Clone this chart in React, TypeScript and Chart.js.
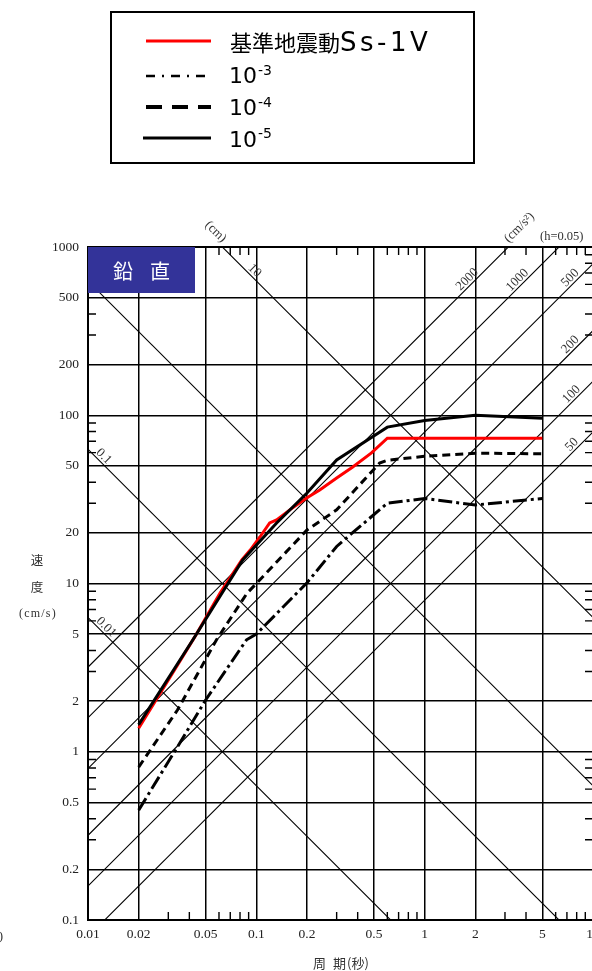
import React, { useEffect, useRef } from "react";
import { Chart, registerables } from "chart.js";

Chart.register(...registerables);

// ---------------- data (period s, velocity cm/s) ----------------
const ssPeriods = [0.02, 0.043, 0.061, 0.082, 0.092, 0.105, 0.12, 0.132, 0.158, 0.2, 0.238, 0.3, 0.374, 0.483, 0.6, 5];
const ssVelocity = [1.38, 4.8, 8.8, 13.8, 15.8, 18.9, 22.9, 23.9, 27.4, 32.3, 36, 42.4, 49.3, 59.7, 73, 73];

const e3Periods = [0.02, 0.034, 0.05, 0.0875, 0.1, 0.2, 0.3, 0.344, 0.6, 1, 2, 5];
const e3Velocity = [0.45, 1.07, 2.03, 4.63, 5.0, 10.1, 16.6, 18.7, 30, 32, 29.3, 32];

const e4Periods = [0.02, 0.034, 0.058, 0.088, 0.1, 0.2, 0.3, 0.54, 0.6, 1, 2, 5];
const e4Velocity = [0.81, 1.77, 4.63, 8.75, 10, 20.8, 27.4, 52, 54, 57, 59.5, 59];

const e5Periods = [0.02, 0.042, 0.083, 0.132, 0.2, 0.3, 0.6, 1, 2, 5];
const e5Velocity = [1.45, 4.63, 13.8, 22.9, 34.5, 54.2, 85, 93, 100, 96];

const xGridValues = [0.01, 0.02, 0.05, 0.1, 0.2, 0.5, 1, 2, 5, 10];
const xTickLabels = ["0.01", "0.02", "0.05", "0.1", "0.2", "0.5", "1", "2", "5", "10"];
const yGridValues = [0.1, 0.2, 0.5, 1, 2, 5, 10, 20, 50, 100, 200, 500, 1000];
const yTickLabels = ["0.1", "0.2", "0.5", "1", "2", "5", "10", "20", "50", "100", "200", "500", "1000"];
const minorMultiples = [3, 4, 6, 7, 8, 9];
const xDecades = [0.01, 0.1, 1];
const yDecades = [0.1, 1, 10, 100];

const displacementLines = [0.01, 0.1, 1, 10]; // cm
const accelerationLines = [50, 100, 200, 500, 1000, 2000]; // cm/s2
const dispLabelTexts = ["0.01", "0.1", "10", "(cm)"];
const dispLabelValues = [0.01, 0.1, 10, 10];
const dispLabelPeriods = [0.0121, 0.0117, 0.0921, 0.0541];
const accLabelTexts = ["50", "100", "200", "500", "1000", "2000", "(cm/s²)"];
const accLabelValues = [50, 100, 200, 500, 1000, 2000, 2000];
const accLabelPeriods = [7.93, 7.9, 7.78, 7.76, 3.77, 1.9, 3.87];

const legendTitle = "基準地震動";
const legendTitleLatin = "Ss-1V";
const legendExponents = ["-3", "-4", "-5"];

const TWO_PI = 2 * Math.PI;
const SERIF = "'Liberation Serif', 'DejaVu Serif', serif";
const CJK = "'Noto Sans CJK JP', sans-serif";

function zip(xs: number[], ys: number[]) {
  return xs.map((x, i) => ({ x, y: ys[i] }));
}

function spacedText(ctx: CanvasRenderingContext2D, text: string, x: number, y: number, spacing: number) {
  let cx = x;
  for (const ch of Array.from(text)) {
    ctx.fillText(ch, cx, y);
    cx += ctx.measureText(ch).width + spacing;
  }
}

const overlayPlugin = {
  id: "tripartite",
  beforeDatasetsDraw(chart: any) {
    const { ctx, chartArea: a } = chart;
    const xs = chart.scales.x;
    const ys = chart.scales.y;
    ctx.save();
    ctx.beginPath();
    ctx.rect(a.left, a.top, a.right - a.left, a.bottom - a.top);
    ctx.clip();
    ctx.strokeStyle = "#000";
    ctx.lineWidth = 1.1;
    const tA = 0.001;
    const tB = 100;
    for (const d of displacementLines) {
      const f = (t: number) => (TWO_PI * d) / t;
      ctx.beginPath();
      ctx.moveTo(xs.getPixelForValue(tA), ys.getPixelForValue(f(tA)));
      ctx.lineTo(xs.getPixelForValue(tB), ys.getPixelForValue(f(tB)));
      ctx.stroke();
    }
    for (const acc of accelerationLines) {
      const f = (t: number) => (acc * t) / TWO_PI;
      ctx.beginPath();
      ctx.moveTo(xs.getPixelForValue(tA), ys.getPixelForValue(f(tA)));
      ctx.lineTo(xs.getPixelForValue(tB), ys.getPixelForValue(f(tB)));
      ctx.stroke();
    }
    ctx.restore();

    ctx.save();
    ctx.strokeStyle = "#000";
    ctx.lineWidth = 1.4;
    const tl = 8;
    for (const dec of xDecades) {
      for (const m of minorMultiples) {
        const px = xs.getPixelForValue(dec * m);
        ctx.beginPath();
        ctx.moveTo(px, a.bottom);
        ctx.lineTo(px, a.bottom - tl);
        ctx.moveTo(px, a.top);
        ctx.lineTo(px, a.top + tl);
        ctx.stroke();
      }
    }
    for (const dec of yDecades) {
      for (const m of minorMultiples) {
        const py = ys.getPixelForValue(dec * m);
        ctx.beginPath();
        ctx.moveTo(a.left, py);
        ctx.lineTo(a.left + tl, py);
        ctx.moveTo(a.right, py);
        ctx.lineTo(a.right - tl, py);
        ctx.stroke();
      }
    }
    ctx.lineWidth = 2;
    ctx.strokeRect(a.left, a.top, a.right - a.left, a.bottom - a.top);
    ctx.restore();
  },
  afterDraw(chart: any) {
    const { ctx, chartArea: a } = chart;
    const xs = chart.scales.x;
    const ys = chart.scales.y;
    const off = 6 / Math.SQRT2;

    ctx.save();
    ctx.fillStyle = "#333";
    ctx.font = `13px ${SERIF}`;
    ctx.textAlign = "center";
    ctx.textBaseline = "middle";
    dispLabelTexts.forEach((txt, i) => {
      const t = dispLabelPeriods[i];
      const v = (TWO_PI * dispLabelValues[i]) / t;
      const px = xs.getPixelForValue(t) + off;
      const py = ys.getPixelForValue(v) - off;
      ctx.save();
      ctx.translate(px, py);
      ctx.rotate(Math.PI / 4);
      ctx.fillText(txt, 0, 0);
      ctx.restore();
    });
    accLabelTexts.forEach((txt, i) => {
      const t = accLabelPeriods[i];
      const v = (accLabelValues[i] * t) / TWO_PI;
      const px = xs.getPixelForValue(t) - off;
      const py = ys.getPixelForValue(v) - off;
      ctx.save();
      ctx.translate(px, py);
      ctx.rotate(-Math.PI / 4);
      ctx.fillText(txt, 0, 0);
      ctx.restore();
    });
    ctx.textAlign = "left";
    ctx.textBaseline = "alphabetic";
    ctx.font = `12.5px ${SERIF}`;
    ctx.fillText("(h=0.05)", a.right - 53, a.top - 7);

    // blue box
    ctx.fillStyle = "#333399";
    ctx.fillRect(a.left, a.top, 107, 46);
    ctx.fillStyle = "#fff";
    ctx.font = `20px ${CJK}`;
    ctx.textAlign = "center";
    ctx.textBaseline = "middle";
    ctx.fillText("鉛", a.left + 35, a.top + 24);
    ctx.fillText("直", a.left + 72, a.top + 24);

    // axis titles
    ctx.fillStyle = "#333";
    ctx.font = `12.5px ${CJK}`;
    ctx.fillText("速", 37, 560);
    ctx.fillText("度", 37, 587);
    ctx.font = `12px ${SERIF}`;
    ctx.textAlign = "left";
    spacedText(ctx, "(cm/s)", 19, 614, 1.2);
    ctx.font = `13px ${CJK}`;
    ctx.textBaseline = "middle";
    ctx.fillText("周", 313, 963);
    ctx.fillText("期", 333, 963);
    ctx.fillText("(秒)", 347, 963);
    ctx.font = `13px ${SERIF}`;
    ctx.textAlign = "right";
    ctx.fillText(")", 3, 937);

    // legend box
    ctx.strokeStyle = "#000";
    ctx.lineWidth = 2;
    ctx.strokeRect(111, 12, 363, 151);
    const lx0 = 146;
    const lx1 = 211;
    ctx.lineWidth = 3;
    ctx.strokeStyle = "#ff0000";
    ctx.setLineDash([]);
    ctx.beginPath();
    ctx.moveTo(lx0, 41);
    ctx.lineTo(lx1, 41);
    ctx.stroke();
    ctx.strokeStyle = "#000";
    ctx.lineWidth = 2.5;
    ctx.setLineDash([9, 7, 2, 7]);
    ctx.beginPath();
    ctx.moveTo(lx0, 76);
    ctx.lineTo(lx1, 76);
    ctx.stroke();
    ctx.lineWidth = 4;
    ctx.setLineDash([16, 10]);
    ctx.beginPath();
    ctx.moveTo(lx0, 107);
    ctx.lineTo(lx1, 107);
    ctx.stroke();
    ctx.lineWidth = 3;
    ctx.setLineDash([]);
    ctx.beginPath();
    ctx.moveTo(143, 138);
    ctx.lineTo(lx1, 138);
    ctx.stroke();

    ctx.fillStyle = "#000";
    ctx.textAlign = "left";
    ctx.textBaseline = "alphabetic";
    ctx.font = `22px ${CJK}`;
    ctx.fillText(legendTitle, 230, 51);
    ctx.font = `26px 'DejaVu Sans', sans-serif`;
    spacedText(ctx, legendTitleLatin, 340, 51, 3.5);
    const baselines = [83, 115, 146.5];
    legendExponents.forEach((ex, i) => {
      ctx.font = `22px 'DejaVu Sans', sans-serif`;
      ctx.fillText("10", 229, baselines[i]);
      ctx.font = `14px 'DejaVu Sans', sans-serif`;
      ctx.fillText(ex, 258, baselines[i] - 8.5);
    });
    ctx.restore();
  },
};

export default function App() {
  const ref = useRef<HTMLCanvasElement | null>(null);
  useEffect(() => {
    const canvas = ref.current;
    if (!canvas) return;
    const tickFont = { family: SERIF, size: 13.5 };
    const chart = new Chart(canvas, {
      type: "scatter",
      data: {
        datasets: [
          {
            label: "10-3",
            data: zip(e3Periods, e3Velocity),
            showLine: true,
            borderColor: "#000",
            borderWidth: 3,
            borderDash: [14, 4, 3, 4],
            pointRadius: 0,
            fill: false,
          },
          {
            label: "10-4",
            data: zip(e4Periods, e4Velocity),
            showLine: true,
            borderColor: "#000",
            borderWidth: 3,
            borderDash: [8, 5],
            pointRadius: 0,
            fill: false,
          },
          {
            label: "10-5",
            data: zip(e5Periods, e5Velocity),
            showLine: true,
            borderColor: "#000",
            borderWidth: 3,
            pointRadius: 0,
            fill: false,
          },
          {
            label: "基準地震動Ss-1V",
            data: zip(ssPeriods, ssVelocity),
            showLine: true,
            borderColor: "#ff0000",
            borderWidth: 3,
            pointRadius: 0,
            fill: false,
          },
        ],
      },
      options: {
        responsive: false,
        animation: false,
        devicePixelRatio: 1,
        events: [],
        layout: { padding: { top: 247, right: 27, left: 0, bottom: 0 } },
        plugins: { legend: { display: false }, tooltip: { enabled: false } },
        scales: {
          x: {
            type: "logarithmic",
            position: "bottom",
            min: 0.01,
            max: 10,
            afterBuildTicks: (s: any) => {
              s.ticks = xGridValues.map((v) => ({ value: v }));
            },
            afterFit: (s: any) => {
              s.height = 51;
            },
            grid: { color: "#000", lineWidth: 1.5, drawTicks: false },
            border: { color: "#000", width: 2 },
            ticks: {
              callback: (_v: any, i: number) => xTickLabels[i],
              autoSkip: false,
              maxRotation: 0,
              minRotation: 0,
              padding: 6,
              color: "#222",
              font: tickFont,
            },
          },
          y: {
            type: "logarithmic",
            position: "left",
            min: 0.1,
            max: 1000,
            afterBuildTicks: (s: any) => {
              s.ticks = yGridValues.map((v) => ({ value: v }));
            },
            afterFit: (s: any) => {
              s.width = 88;
            },
            grid: { color: "#000", lineWidth: 1.5, drawTicks: false },
            border: { color: "#000", width: 2 },
            ticks: {
              callback: (_v: any, i: number) => yTickLabels[i],
              autoSkip: false,
              padding: 9,
              color: "#222",
              font: tickFont,
            },
          },
        },
      } as any,
      plugins: [overlayPlugin as any],
    });
    return () => chart.destroy();
  }, []);

  return (
    <div style={{ position: "absolute", left: 0, top: 0, width: 592, height: 971, overflow: "hidden", background: "#fff" }}>
      <canvas ref={ref} width={620} height={971} style={{ display: "block", width: 620, height: 971 }} />
    </div>
  );
}
